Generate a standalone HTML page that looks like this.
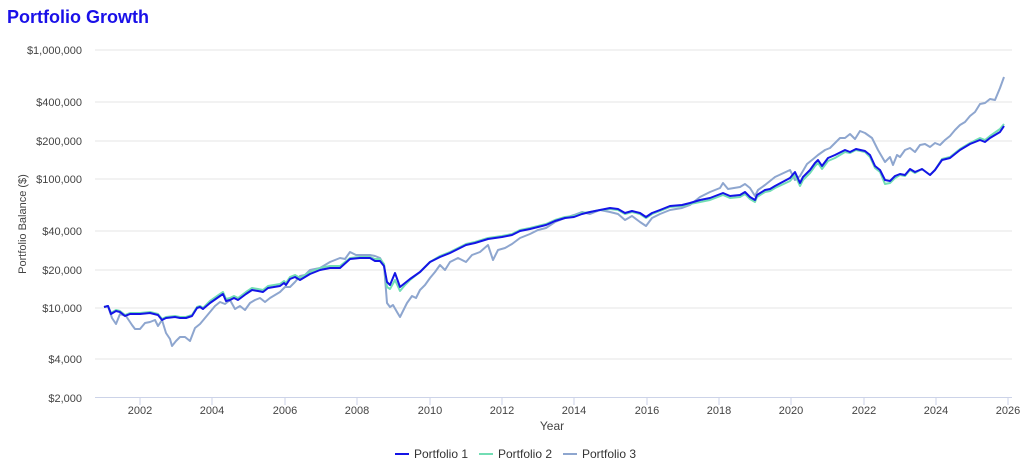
<!DOCTYPE html><html><head><style>body{margin:0;background:#fff;font-family:"Liberation Sans",sans-serif}</style></head><body>
<svg width="1024" height="465" xmlns="http://www.w3.org/2000/svg" font-family="Liberation Sans, sans-serif">
<text x="7" y="23" font-size="18" font-weight="bold" fill="#1a10e8">Portfolio Growth</text>
<g stroke="#e6e6e6" stroke-width="1">
<line x1="95" x2="1012" y1="50" y2="50"/><line x1="95" x2="1012" y1="102" y2="102"/><line x1="95" x2="1012" y1="141" y2="141"/><line x1="95" x2="1012" y1="179" y2="179"/><line x1="95" x2="1012" y1="231" y2="231"/><line x1="95" x2="1012" y1="270" y2="270"/><line x1="95" x2="1012" y1="308" y2="308"/><line x1="95" x2="1012" y1="359" y2="359"/>
</g>
<line x1="95" x2="1012" y1="397.5" y2="397.5" stroke="#ccd3e8"/>
<g stroke="#ccd3e8"><line x1="140" x2="140" y1="397" y2="405"/><line x1="212" x2="212" y1="397" y2="405"/><line x1="285" x2="285" y1="397" y2="405"/><line x1="357" x2="357" y1="397" y2="405"/><line x1="430" x2="430" y1="397" y2="405"/><line x1="502" x2="502" y1="397" y2="405"/><line x1="574" x2="574" y1="397" y2="405"/><line x1="647" x2="647" y1="397" y2="405"/><line x1="719" x2="719" y1="397" y2="405"/><line x1="791" x2="791" y1="397" y2="405"/><line x1="864" x2="864" y1="397" y2="405"/><line x1="936" x2="936" y1="397" y2="405"/><line x1="1008" x2="1008" y1="397" y2="405"/></g>
<g font-size="11" fill="#444" text-anchor="end">
<text x="82" y="54">$1,000,000</text><text x="82" y="106">$400,000</text><text x="82" y="145">$200,000</text><text x="82" y="183">$100,000</text><text x="82" y="235">$40,000</text><text x="82" y="274">$20,000</text><text x="82" y="312">$10,000</text><text x="82" y="363">$4,000</text><text x="82" y="402">$2,000</text>
</g>
<g font-size="11" fill="#444" text-anchor="middle">
<text x="140" y="414">2002</text><text x="212" y="414">2004</text><text x="285" y="414">2006</text><text x="357" y="414">2008</text><text x="430" y="414">2010</text><text x="502" y="414">2012</text><text x="574" y="414">2014</text><text x="647" y="414">2016</text><text x="719" y="414">2018</text><text x="791" y="414">2020</text><text x="864" y="414">2022</text><text x="936" y="414">2024</text><text x="1008" y="414">2026</text>
<text x="552" y="430" font-size="12">Year</text>
</g>
<text transform="translate(26,224) rotate(-90)" font-size="11" fill="#444" text-anchor="middle">Portfolio Balance ($)</text>
<g fill="none" stroke-width="2" stroke-linejoin="round">
<polyline stroke="#8ea6cf" points="104,307 108,306 112,318 116,324 120,314 126,316 132,325 135,329 140,329 145,323 150,322 155,320 158,326 162,320 166,333 170,339 172,346 176,341 180,337 185,337 190,341 195,328 200,324 205,318 210,312 215,306 220,302 225,304 230,300 235,309 240,306 245,310 250,303 255,300 260,298 265,302 270,298 280,292 285,287 290,287 295,282 300,276 305,275 310,270 320,268 330,262 340,258 345,259 350,252 356,255 370,255 375,256 380,258 384,265 387,303 390,307 393,305 397,312 400,317 403,311 407,303 412,296 416,298 420,290 425,285 430,278 435,272 440,265 445,270 450,262 458,258 466,262 472,255 480,252 488,245 493,260 498,250 505,248 512,244 520,238 530,234 538,230 546,228 555,222 565,218 574,215 582,212 590,214 600,210 610,212 618,214 625,220 632,216 640,222 646,226 652,218 660,214 670,210 682,208 690,205 700,197 710,192 720,188 723,183 728,189 740,187 745,184 750,188 755,196 758,190 765,185 775,177 790,170 795,180 800,176 807,164 812,160 818,155 825,150 830,148 840,138 845,138 850,134 855,139 860,131 865,133 872,138 878,150 885,162 890,157 893,165 897,155 900,157 905,150 910,148 915,152 920,145 925,144 930,147 935,143 940,145 945,140 950,136 955,130 960,125 965,122 970,116 975,112 980,104 985,103 990,99 995,100 1000,88 1004,77"/>
<polyline stroke="#72ddb4" points="104,307 108,306 111,313 116,310 120,311 125,315 130,313 140,313 150,312 158,314 162,319 166,317 175,316 180,317 186,317 192,315 197,307 200,306 203,308 210,301 220,294 223,292 226,299 230,298 234,296 238,298 246,292 252,288 258,289 263,290 268,286 280,284 284,281 286,283 290,277 295,275 300,278 310,272 320,268 330,266 340,266 350,258 360,257 370,257 375,259 380,259 384,264 387,287 390,289 395,280 400,291 405,285 410,280 420,272 430,262 440,256 450,252 460,247 466,244 475,242 488,238 502,236 512,234 520,230 530,228 538,226 546,224 555,220 565,217 574,216 582,213 590,212 600,210 610,209 618,210 625,214 632,212 640,214 646,218 652,214 660,211 670,207 682,206 690,204 700,202 710,200 723,195 730,198 740,197 745,194 750,199 755,202 757,197 765,192 770,191 775,188 790,181 795,175 800,186 803,180 810,173 815,166 818,163 822,169 828,161 835,158 845,152 850,153 856,150 865,152 870,157 875,168 880,172 885,184 890,183 895,178 900,175 905,176 910,170 915,173 922,169 930,175 935,170 942,159 950,157 960,149 970,143 980,138 985,140 990,136 1000,129 1004,124"/>
<polyline stroke="#1414e6" points="104,307 108,306 111,314 116,311 120,312 125,316 130,314 140,314 150,313 158,315 162,320 166,318 175,317 180,318 186,318 192,316 197,308 200,307 203,309 210,303 220,296 223,294 226,301 230,300 234,298 238,300 246,294 252,290 258,291 263,292 268,288 280,286 284,283 286,285 290,279 295,277 300,280 310,274 320,270 330,268 340,268 350,259 360,258 370,258 375,261 380,261 384,266 387,282 390,285 395,273 400,287 405,283 410,279 420,272 430,262 440,257 450,253 460,248 466,245 475,243 488,239 502,237 512,235 520,231 530,229 538,227 546,225 555,221 565,218 574,217 582,214 590,212 600,210 610,208 618,209 625,213 632,211 640,213 646,217 652,213 660,210 670,206 682,205 690,203 700,200 710,198 723,193 730,196 740,195 745,192 750,197 755,200 757,195 765,190 770,189 775,186 790,178 795,172 800,183 803,177 810,170 815,163 818,160 822,166 828,158 835,155 845,150 850,152 856,149 865,151 870,155 875,166 880,170 885,180 890,181 895,176 900,174 905,175 910,169 915,172 922,169 930,175 935,170 942,160 950,158 960,150 970,144 980,140 985,142 990,138 1000,132 1004,126"/>
</g>
<g font-size="12" fill="#333">
<line x1="395" x2="409" y1="454" y2="454" stroke="#1414e6" stroke-width="2"/><text x="414" y="458">Portfolio 1</text>
<line x1="479" x2="493" y1="454" y2="454" stroke="#72ddb4" stroke-width="2"/><text x="498" y="458">Portfolio 2</text>
<line x1="563" x2="577" y1="454" y2="454" stroke="#8ea6cf" stroke-width="2"/><text x="582" y="458">Portfolio 3</text>
</g>
</svg></body></html>
